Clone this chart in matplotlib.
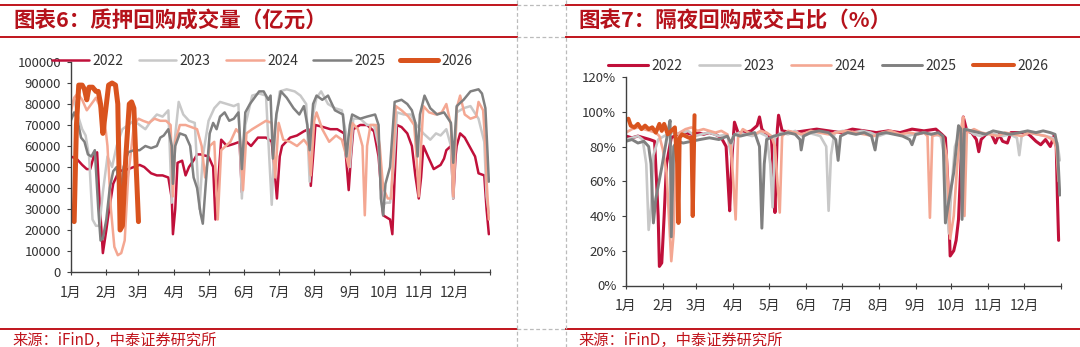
import matplotlib

matplotlib.use("Agg")
import matplotlib.pyplot as plt
from matplotlib.lines import Line2D

plt.rcParams["font.family"] = ["Noto Sans CJK SC", "DejaVu Sans"]

W, H = 1080, 347

YEARS = ["2022", "2023", "2024", "2025", "2026"]
COLORS = ["#C0103A", "#C8C8C8", "#F4A792", "#808080", "#D9531E"]

MONTH_STARTS = [0, 31, 59, 90, 120, 151, 181, 212, 243, 273, 304, 334]
MONTH_LABELS = ["1月", "2月", "3月", "4月", "5月", "6月", "7月", "8月", "9月", "10月", "11月", "12月"]

# ---- chart 6: repo volume (亿元), x = day of year ----
vol_d22 = [0, 5, 10, 14, 17, 20, 23, 25, 28, 31, 33, 37, 42, 50, 55, 60, 64, 70, 75, 80, 85, 88, 89, 91,
           93, 97, 100, 103, 108, 110, 113, 120, 124, 126, 128, 131, 136, 142, 147, 149, 151, 157, 163,
           170, 175, 178, 179.5, 182, 184, 191, 197, 203, 207, 209, 211, 213, 220, 226, 232, 238, 242,
           244, 246, 252, 258, 264, 268, 272, 275, 278, 280, 282, 284, 288, 293, 297, 300, 303, 305,
           307, 311, 316, 322, 325, 327, 331, 333, 335, 336, 339, 343, 348, 352, 355, 360, 362, 364]
vol_v22 = [55000, 54000, 51000, 49000, 49000, 55000, 57000, 35000, 9000, 20000, 28000, 42000, 48000,
           49000, 50000, 51000, 50000, 47000, 46000, 46000, 45000, 35000, 18000, 30000, 52000, 53000,
           46000, 50000, 54000, 56000, 56000, 55000, 50000, 25000, 40000, 63000, 60000, 61000, 62000,
           38000, 63000, 60000, 64000, 64000, 62000, 45000, 35000, 55000, 60000, 64000, 65000, 67000,
           68000, 41000, 55000, 70000, 69000, 68000, 68000, 66000, 39000, 55000, 68000, 70000, 70000,
           67000, 55000, 27000, 26000, 25000, 18000, 45000, 70000, 69000, 66000, 60000, 46000, 35000,
           45000, 60000, 55000, 49000, 51000, 54000, 58000, 60000, 35000, 55000, 60000, 66000, 64000,
           59000, 55000, 47000, 46000, 30000, 18000]

vol_d23 = [0, 3, 6, 10, 13, 16, 19, 22, 25, 28, 32, 36, 40, 45, 50, 55, 60, 65, 70, 75, 80, 85, 88, 90,
           94, 98, 103, 108, 112, 115, 120, 125, 130, 136, 142, 146, 149, 152, 158, 164, 170, 175, 178,
           182, 188, 195, 200, 205, 208, 211, 214, 218, 224, 230, 236, 240, 243, 246, 252, 258, 264,
           268, 271, 275, 278, 281, 284, 290, 296, 301, 307, 313, 318, 322, 327, 331, 333, 336, 342,
           348, 355, 360, 362, 364]
vol_v23 = [80000, 82000, 75000, 68000, 65000, 55000, 25000, 22000, 22000, 38000, 55000, 50000, 60000,
           68000, 70000, 72000, 70000, 68000, 72000, 75000, 74000, 77000, 33000, 60000, 81000, 75000,
           72000, 71000, 30000, 55000, 72000, 78000, 81000, 80000, 79000, 80000, 35000, 70000, 84000,
           85000, 84000, 32000, 70000, 86000, 87000, 86000, 84000, 80000, 43000, 75000, 83000, 86000,
           80000, 78000, 77000, 65000, 50000, 73000, 73000, 70000, 70000, 60000, 32000, 33000, 33000,
           50000, 76000, 75000, 75000, 70000, 66000, 63000, 66000, 65000, 68000, 60000, 35000, 76000,
           78000, 79000, 73000, 62000, 36000, 28000]

vol_d24 = [0, 3, 6, 10, 14, 18, 22, 26, 29, 32, 35, 38, 41, 44, 47, 50, 55, 59, 63, 68, 73, 78, 83, 87,
           89, 91, 95, 100, 105, 110, 114, 117, 121, 125, 128, 131, 135, 139, 144, 147, 150, 153, 158,
           164, 170, 175, 178, 181, 185, 191, 197, 203, 207, 209, 212, 214, 219, 225, 231, 236, 240,
           242, 245, 250, 254, 256, 258, 261, 266, 269, 272, 276, 279, 281, 283, 288, 294, 299, 301,
           303, 305, 307, 312, 318, 323, 327, 331, 333, 336, 339, 343, 348, 353, 355, 359, 361, 362, 364]
vol_v24 = [76000, 83000, 85000, 82000, 77000, 80000, 83000, 78000, 75000, 60000, 30000, 12000, 8000,
           9000, 15000, 45000, 70000, 73000, 72000, 71000, 73000, 72000, 72000, 70000, 36000, 62000,
           70000, 70000, 69000, 68000, 60000, 45000, 60000, 62000, 25000, 58000, 60000, 62000, 68000,
           66000, 39000, 66000, 68000, 70000, 72000, 71000, 45000, 71000, 63000, 62000, 60000, 63000,
           60000, 46000, 72000, 76000, 68000, 62000, 65000, 63000, 55000, 50000, 71000, 68000, 60000,
           27000, 60000, 70000, 70000, 60000, 40000, 35000, 35000, 60000, 79000, 77000, 74000, 70000,
           55000, 36000, 60000, 79000, 76000, 75000, 76000, 80000, 70000, 36000, 78000, 84000, 75000,
           73000, 74000, 81000, 77000, 60000, 44000, 25000]

vol_d25 = [0, 3, 6, 9, 12, 15, 18, 21, 24, 26, 28, 31, 34, 37, 40, 43, 46, 50, 55, 60, 65, 70, 75, 78,
           81, 85, 88, 89, 91, 95, 100, 104, 107, 110, 113, 115, 118, 121, 124, 127, 130, 134, 138, 142,
           146, 149, 152, 156, 160, 164, 168, 172, 174, 176, 179, 183, 188, 194, 199, 203, 206, 208,
           211, 214, 219, 224, 230, 237, 240, 243, 245, 252, 258, 265, 268, 270, 272, 274, 278, 282,
           288, 293, 297, 300, 302, 304, 308, 313, 319, 325, 331, 333, 336, 342, 348, 355, 358, 361,
           363, 364]
vol_v25 = [72000, 76000, 72000, 64000, 62000, 56000, 55000, 58000, 30000, 15000, 16000, 25000, 40000,
           48000, 50000, 35000, 50000, 57000, 58000, 58000, 60000, 59000, 60000, 64000, 65000, 68000,
           60000, 42000, 60000, 66000, 65000, 60000, 45000, 40000, 28000, 23000, 45000, 66000, 71000,
           68000, 74000, 76000, 72000, 73000, 76000, 49000, 76000, 80000, 83000, 86000, 86000, 82000,
           84000, 54000, 75000, 86000, 83000, 78000, 75000, 79000, 70000, 58000, 80000, 84000, 82000,
           84000, 77000, 75000, 55000, 70000, 75000, 73000, 74000, 75000, 70000, 35000, 27000, 42000,
           50000, 81000, 82000, 80000, 77000, 71000, 55000, 75000, 84000, 78000, 75000, 76000, 71000,
           52000, 79000, 82000, 86000, 87000, 85000, 78000, 55000, 43000]

vol_d26 = [3, 5, 7, 10, 12, 14, 16, 19, 22, 24, 26, 28, 30, 33, 36, 39, 41, 43, 45, 48, 51, 53, 55, 57, 59]
vol_v26 = [24000, 70000, 89000, 89000, 87000, 82000, 88000, 88000, 86000, 86000, 80000, 66000, 75000,
           89000, 90000, 89000, 80000, 20000, 22000, 55000, 80000, 81000, 78000, 50000, 24000]

# ---- chart 7: overnight share (%) ----
shr_d22 = [0, 5, 10, 15, 20, 24, 27, 28, 30, 32, 34, 38, 43, 50, 55, 60, 65, 70, 75, 80, 84, 86, 87, 89,
           91, 94, 100, 105, 110, 112, 114, 118, 122, 124, 125, 127, 128, 131, 140, 150, 160, 170, 180,
           190, 200, 210, 220, 230, 240, 250, 260, 265, 268, 270, 272, 275, 277, 279, 281, 283, 286,
           290, 294, 296, 298, 302, 306, 310, 313, 316, 320, 323, 328, 333, 338, 344, 348, 352, 356,
           359, 361, 362, 363]
shr_v22 = [86, 85, 86, 85, 84, 83, 40, 11, 13, 40, 70, 85, 87, 88, 87, 88, 87, 88, 87, 85, 80, 55, 43,
           75, 94, 88, 88, 89, 92, 97, 90, 87, 85, 60, 42, 90, 98, 89, 88, 89, 90, 89, 88, 90, 89, 88,
           89, 88, 90, 89, 90, 87, 85, 60, 17, 20, 26, 38, 70, 97, 89, 88, 84, 77, 84, 87, 88, 82, 87,
           83, 82, 88, 88, 88, 87, 83, 81, 84, 80, 86, 80, 50, 26]

shr_d23 = [0, 5, 10, 14, 17, 19, 21, 23, 27, 32, 38, 45, 52, 58, 63, 70, 78, 85, 88, 90, 95, 100, 106,
           112, 118, 121, 123, 125, 130, 136, 142, 148, 152, 158, 163, 168, 170, 172, 175, 182, 190,
           198, 205, 212, 220, 228, 235, 242, 250, 258, 264, 267, 269, 271, 273, 276, 280, 286, 292,
           298, 304, 310, 316, 322, 328, 330, 332, 338, 345, 352, 358, 362, 364]
shr_v23 = [84, 85, 86, 84, 70, 32, 45, 75, 84, 86, 88, 87, 89, 86, 87, 88, 86, 87, 75, 86, 88, 87, 86,
           88, 86, 70, 45, 85, 88, 87, 89, 86, 88, 87, 86, 80, 43, 75, 88, 89, 88, 89, 88, 86, 88, 87,
           86, 87, 88, 87, 86, 75, 45, 30, 55, 80, 88, 90, 87, 86, 88, 87, 86, 87, 85, 75, 86, 88, 87,
           86, 85, 82, 72]

shr_d24 = [0, 5, 10, 15, 20, 25, 28, 31, 34, 36, 38, 40, 42, 45, 50, 55, 60, 65, 70, 75, 80, 85, 88, 90,
           92, 94, 98, 103, 108, 113, 118, 122, 125, 127, 129, 131, 136, 142, 148, 155, 162, 170, 177,
           185, 192, 200, 208, 215, 222, 230, 238, 245, 250, 253, 255, 257, 262, 266, 269, 272, 275,
           278, 281, 283, 284, 286, 292, 298, 305, 312, 318, 325, 332, 338, 345, 352, 358, 361, 363]
shr_v24 = [88, 90, 91, 90, 89, 88, 86, 78, 65, 40, 14, 30, 75, 88, 90, 91, 89, 90, 89, 88, 89, 87, 80,
           60, 38, 85, 90, 88, 87, 89, 88, 86, 80, 60, 42, 86, 89, 88, 87, 89, 88, 87, 88, 89, 88, 87,
           86, 88, 89, 87, 88, 87, 88, 86, 39, 86, 87, 85, 75, 27, 40, 70, 90, 97, 40, 88, 90, 88, 87,
           86, 88, 87, 86, 88, 87, 86, 84, 80, 60]

shr_d25 = [0, 5, 10, 15, 19, 21, 23, 25, 30, 35, 37, 38, 40, 43, 48, 55, 62, 70, 78, 85, 88, 91, 96,
           102, 108, 112, 114, 116, 118, 124, 130, 136, 142, 146, 147, 149, 155, 162, 170, 176, 178,
           180, 186, 193, 200, 206, 209, 211, 218, 225, 232, 238, 240, 243, 250, 256, 262, 266, 268,
           270, 275, 279, 281, 282, 284, 290, 296, 302, 308, 315, 322, 330, 337, 344, 350, 356, 360,
           362, 364]
shr_v25 = [83, 84, 82, 83, 80, 70, 36, 50, 68, 88, 95, 28, 80, 83, 82, 83, 84, 85, 84, 86, 82, 87, 86,
           87, 88, 80, 33, 70, 84, 86, 87, 88, 87, 84, 78, 86, 88, 89, 88, 84, 72, 86, 88, 87, 88, 86,
           78, 87, 88, 87, 86, 84, 81, 87, 88, 87, 88, 86, 36, 45, 65, 92, 90, 38, 90, 89, 88, 87, 89,
           88, 87, 88, 89, 88, 89, 88, 87, 80, 52]

shr_d26 = [2, 4, 7, 10, 13, 16, 19, 22, 25, 28, 30, 32, 35, 38, 41, 43, 44, 45, 47, 50, 53, 55, 56, 57.5]
shr_v26 = [96, 92, 91, 93, 90, 92, 90, 91, 88, 93, 89, 93, 87, 89, 91, 70, 36, 85, 87, 86, 85, 85, 40, 98]

VOL_SERIES = [(vol_d22, vol_v22), (vol_d23, vol_v23), (vol_d24, vol_v24), (vol_d25, vol_v25), (vol_d26, vol_v26)]
SHR_SERIES = [(shr_d22, shr_v22), (shr_d23, shr_v23), (shr_d24, shr_v24), (shr_d25, shr_v25), (shr_d26, shr_v26)]

VOL_LW = [1.8, 1.8, 1.8, 1.8, 3.6]
SHR_LW = [2.2, 1.9, 1.9, 2.1, 2.9]

TITLE_RED = "#B5121B"
AXIS_COLOR = "#404040"
TEXT_COLOR = "#333333"


def fx(x):
    return x / W


def fy(y):
    return 1 - y / H


def style_axes(ax):
    for side in ("top", "right"):
        ax.spines[side].set_visible(False)
    for side in ("left", "bottom"):
        ax.spines[side].set_color(AXIS_COLOR)
        ax.spines[side].set_linewidth(1.0)
    ax.set_xlim(0, 365)
    ax.set_xticks(MONTH_STARTS + [365])
    ax.set_xticklabels(MONTH_LABELS + [""])
    ax.tick_params(axis="x", direction="inout", length=4, width=0.8, color=AXIS_COLOR,
                   pad=8, labelsize=10, labelcolor=TEXT_COLOR)
    ax.tick_params(axis="y", direction="out", length=3, width=0.8, color=AXIS_COLOR,
                   pad=4, labelsize=9.5, labelcolor=TEXT_COLOR)


def draw_panel(ax, series, widths):
    for (d, v), color, lw, year in zip(series, COLORS, widths, YEARS):
        ax.plot(d, v, color=color, lw=lw, label=year,
                solid_capstyle="round", solid_joinstyle="round")


fig = plt.figure(figsize=(W / 100, H / 100), dpi=100, facecolor="white")

# left panel
ax1 = fig.add_axes([fx(70.7), fy(272), fx(490) - fx(70.7), fy(62) - fy(272)])
draw_panel(ax1, VOL_SERIES, VOL_LW)
style_axes(ax1)
ax1.set_ylim(0, 100000)
ax1.set_yticks(range(0, 100001, 10000))
ax1.set_yticklabels([str(v) for v in range(0, 100001, 10000)])
ax1.legend(loc="center", bbox_to_anchor=(fx(262), fy(61)), bbox_transform=fig.transFigure,
           ncol=5, frameon=False, fontsize=10, handlelength=2.7, handletextpad=0.25,
           columnspacing=1.1, borderpad=0, labelcolor=TEXT_COLOR)

# right panel
ax2 = fig.add_axes([fx(626), fy(285.5), fx(1061) - fx(626), fy(77) - fy(285.5)])
draw_panel(ax2, SHR_SERIES, SHR_LW)
style_axes(ax2)
ax2.set_ylim(0, 120)
ax2.set_yticks(range(0, 121, 20))
ax2.set_yticklabels(["{}%".format(v) for v in range(0, 121, 20)])
ax2.legend(loc="center", bbox_to_anchor=(fx(828), fy(66)), bbox_transform=fig.transFigure,
           ncol=5, frameon=False, fontsize=10, handlelength=2.9, handletextpad=0.25,
           columnspacing=1.2, borderpad=0, labelcolor=TEXT_COLOR)

# frame lines
def hline(x0, x1, y, **kw):
    fig.add_artist(Line2D([fx(x0), fx(x1)], [fy(y), fy(y)], transform=fig.transFigure, **kw))


def vline(x, y0, y1, **kw):
    fig.add_artist(Line2D([fx(x), fx(x)], [fy(y0), fy(y1)], transform=fig.transFigure, **kw))


red_kw = dict(color="#C0141C", lw=1.4)
dash_kw = dict(color="#BBBBBB", lw=0.9, ls=(0, (3, 2)))
for y in (5, 37, 329):
    hline(0, 517, y, **red_kw)
    hline(566, 1080, y, **red_kw)
    hline(517, 566, y, **dash_kw)
vline(517, 0, 347, **dash_kw)
vline(566, 0, 347, **dash_kw)

fig.text(fx(13), fy(21), "图表6：质押回购成交量（亿元）", fontsize=15.5, fontweight="bold",
         color=TITLE_RED, ha="left", va="center")
fig.text(fx(578), fy(21), "图表7：隔夜回购成交占比（%）", fontsize=15.5, fontweight="bold",
         color=TITLE_RED, ha="left", va="center")
fig.text(fx(12), fy(340), "来源：iFinD，中泰证券研究所", fontsize=11, color="#C0141C",
         ha="left", va="center")
fig.text(fx(578), fy(340), "来源：iFinD，中泰证券研究所", fontsize=11, color="#C0141C",
         ha="left", va="center")

fig.savefig("out.png", dpi=100, facecolor="white")
